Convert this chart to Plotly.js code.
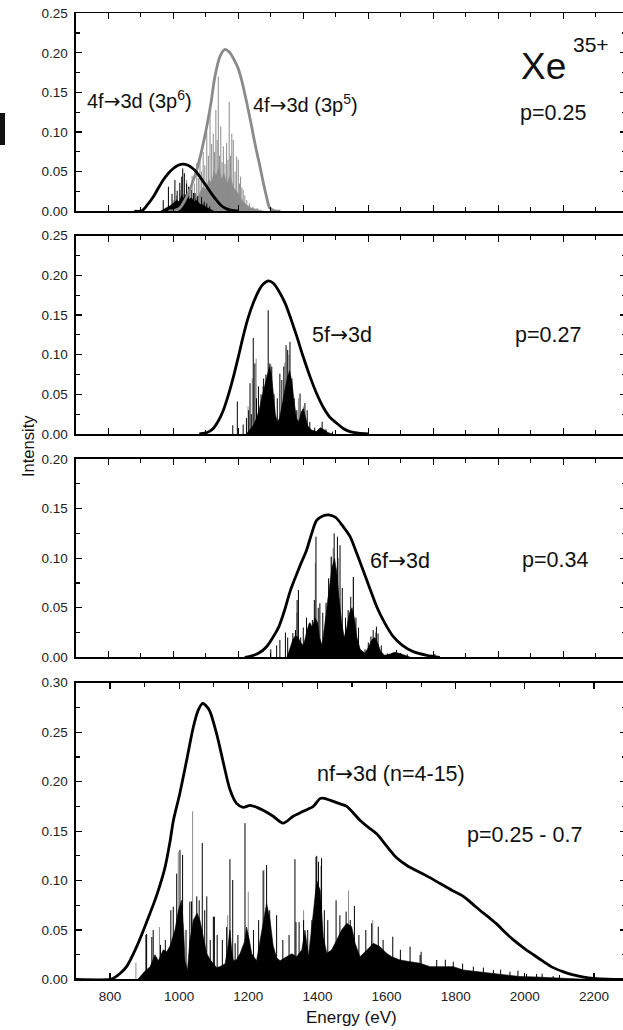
<!DOCTYPE html>
<html><head><meta charset="utf-8">
<script src="https://cdn.plot.ly/plotly-3.0.1.min.js"></script>
<style>html,body{margin:0;padding:0;overflow:hidden;background:#fff;width:623px;height:1030px}#chart{width:626px;height:1030px}</style>
</head><body><div id="chart"></div>
<script>
// ---------- Panel 1: 4f->3d (p=0.25) ----------
const p1Curve6E = [880, 903, 920, 938, 955, 970, 985, 1000, 1015, 1030, 1045, 1060, 1072, 1088, 1103, 1118, 1133, 1148, 1164, 1180, 1200];
const p1Curve6I = [0, 0.0005, 0.008, 0.018, 0.030, 0.040, 0.048, 0.054, 0.058, 0.0595, 0.058, 0.054, 0.049, 0.040, 0.031, 0.022, 0.014, 0.007, 0.003, 0.001, 0];
const p1Curve5E = [985, 1005, 1020, 1041, 1056, 1072, 1088, 1103, 1116, 1128, 1144, 1159, 1172, 1185, 1198, 1210, 1226, 1241, 1254, 1267, 1278, 1287, 1297, 1310, 1330];
const p1Curve5I = [0, 0.001, 0.004, 0.018, 0.033, 0.052, 0.078, 0.107, 0.137, 0.170, 0.196, 0.2045, 0.201, 0.193, 0.182, 0.166, 0.137, 0.107, 0.080, 0.056, 0.034, 0.018, 0.004, 0.001, 0];
const p1BlackStickE = [969, 985, 996, 1005, 1012, 1020, 1026, 1029, 1034, 1041, 1047, 1055, 1062, 1067, 1075, 1087, 1095, 1103, 1112];
const p1BlackStickI = [0.014, 0.031, 0.022, 0.0395, 0.026, 0.036, 0.0437, 0.054, 0.048, 0.035, 0.031, 0.027, 0.023, 0.023, 0.019, 0.018, 0.012, 0.010, 0.006];
const p1BlackMassE = [960, 975, 990, 1000, 1010, 1018, 1026, 1032, 1040, 1048, 1056, 1064, 1072, 1082, 1092, 1102, 1112, 1125];
const p1BlackMassI = [0, 0.003, 0.007, 0.010, 0.014, 0.012, 0.02, 0.016, 0.022, 0.015, 0.017, 0.012, 0.014, 0.009, 0.008, 0.005, 0.003, 0];
const p1GrayStickE = [1000, 1010, 1021, 1032, 1041, 1050, 1058, 1065, 1072, 1077, 1082, 1087, 1092, 1097, 1103, 1108, 1113, 1118, 1123, 1127, 1131, 1135, 1138.5, 1142, 1146, 1150, 1154, 1159, 1164, 1168, 1172, 1176, 1180, 1184.6, 1190, 1195, 1200, 1204, 1207, 1211, 1215, 1220, 1226, 1234, 1245, 1258];
const p1GrayStickI = [0.014, 0.02, 0.027, 0.022, 0.0395, 0.03, 0.045, 0.035, 0.0606, 0.042, 0.069, 0.05, 0.075, 0.058, 0.10, 0.07, 0.126, 0.085, 0.098, 0.075, 0.128, 0.09, 0.170, 0.07, 0.107, 0.062, 0.082, 0.06, 0.086, 0.065, 0.138, 0.07, 0.098, 0.09, 0.05, 0.069, 0.065, 0.035, 0.0437, 0.03, 0.027, 0.02, 0.014, 0.010, 0.006, 0.004];
const p1GrayMassE = [1040, 1055, 1068, 1080, 1090, 1100, 1110, 1118, 1125, 1132, 1140, 1148, 1156, 1165, 1175, 1185, 1195, 1205, 1215, 1225, 1240, 1260, 1280];
const p1GrayMassI = [0, 0.008, 0.015, 0.022, 0.03, 0.028, 0.04, 0.035, 0.05, 0.045, 0.055, 0.04, 0.048, 0.035, 0.045, 0.03, 0.025, 0.018, 0.012, 0.008, 0.004, 0.002, 0];

// ---------- Panel 2: 5f->3d (p=0.27) ----------
const p2CurveE = [1080, 1097, 1110, 1123, 1138, 1154, 1170, 1185, 1200, 1215, 1230, 1246, 1262, 1277, 1293, 1308, 1325, 1344, 1362, 1380, 1400, 1421, 1441, 1461, 1482, 1503, 1523, 1544, 1570, 1600];
const p2CurveI = [0, 0.001, 0.003, 0.007, 0.016, 0.030, 0.050, 0.072, 0.097, 0.123, 0.146, 0.165, 0.180, 0.189, 0.193, 0.190, 0.180, 0.165, 0.145, 0.123, 0.097, 0.072, 0.051, 0.034, 0.021, 0.0135, 0.007, 0.003, 0.001, 0];
const p2BlackStickE = [1183, 1197, 1215, 1225, 1232, 1236, 1240, 1246, 1251, 1256, 1262, 1270, 1278, 1285, 1292, 1297, 1303, 1310, 1320, 1328, 1334, 1340, 1347, 1352, 1359, 1365, 1372, 1380, 1390, 1397, 1405, 1412, 1420, 1435, 1458, 1470, 1490];
const p2BlackStickI = [0.011, 0.041, 0.012, 0.02, 0.03, 0.064, 0.025, 0.121, 0.089, 0.045, 0.06, 0.05, 0.07, 0.075, 0.156, 0.089, 0.085, 0.05, 0.045, 0.076, 0.068, 0.085, 0.112, 0.106, 0.116, 0.07, 0.045, 0.03, 0.051, 0.025, 0.039, 0.03, 0.015, 0.008, 0.0155, 0.006, 0.003];
const p2GrayStickE = [1230, 1243, 1255, 1275, 1300, 1343, 1356, 1385, 1400];
const p2GrayStickI = [0.035, 0.07, 0.095, 0.06, 0.088, 0.09, 0.1, 0.045, 0.035];
const p2MassE = [1225, 1238, 1248, 1256, 1264, 1272, 1280, 1288, 1296, 1302, 1308, 1314, 1320, 1327, 1334, 1342, 1350, 1358, 1365, 1372, 1379, 1386, 1394, 1400, 1407, 1414, 1425, 1440, 1452, 1462, 1475, 1490];
const p2MassI = [0, 0.006, 0.012, 0.02, 0.03, 0.045, 0.06, 0.072, 0.085, 0.075, 0.05, 0.025, 0.015, 0.02, 0.035, 0.055, 0.07, 0.08, 0.065, 0.04, 0.02, 0.015, 0.028, 0.032, 0.022, 0.01, 0.005, 0.003, 0.008, 0.006, 0.002, 0];

// ---------- Panel 3: 6f->3d (p=0.34) ----------
const p3CurveE = [1220, 1236, 1262, 1287, 1310, 1325, 1342, 1359, 1375, 1392, 1410, 1425, 1441, 1460, 1482, 1500, 1520, 1544, 1562, 1580, 1603, 1626, 1650, 1677, 1705, 1738, 1780, 1820];
const p3CurveI = [0, 0.001, 0.004, 0.0107, 0.022, 0.031, 0.047, 0.066, 0.080, 0.094, 0.108, 0.124, 0.138, 0.1425, 0.1435, 0.141, 0.133, 0.1217, 0.107, 0.0914, 0.071, 0.051, 0.035, 0.0208, 0.012, 0.0057, 0.002, 0];
const p3BlackStickE = [1300, 1318, 1328, 1345, 1352, 1368, 1376, 1381, 1385, 1392, 1400, 1410, 1418, 1428, 1434, 1439, 1446, 1451, 1460, 1470, 1478, 1486, 1495, 1500, 1505, 1513, 1520, 1530, 1538, 1546, 1554, 1562, 1570, 1590, 1600, 1608, 1615, 1625, 1630, 1640, 1660, 1687, 1700, 1720, 1805];
const p3BlackStickI = [0.008, 0.012, 0.0175, 0.025, 0.02, 0.0245, 0.0275, 0.0578, 0.0679, 0.02, 0.03, 0.04, 0.034, 0.0376, 0.0578, 0.1217, 0.05, 0.0545, 0.045, 0.055, 0.0797, 0.1015, 0.125, 0.09, 0.1217, 0.113, 0.07, 0.04, 0.0477, 0.061, 0.081, 0.04, 0.03, 0.008, 0.015, 0.021, 0.0275, 0.031, 0.024, 0.012, 0.004, 0.0074, 0.004, 0.003, 0.0033];
const p3GrayStickE = [1380, 1437, 1476, 1486, 1492, 1508, 1554, 1612, 1622];
const p3GrayStickI = [0.045, 0.095, 0.06, 0.1015, 0.11, 0.1, 0.081, 0.02, 0.025];
const p3MassE = [1350, 1360, 1368, 1376, 1384, 1392, 1400, 1405, 1412, 1420, 1428, 1436, 1444, 1450, 1458, 1465, 1472, 1480, 1488, 1496, 1503, 1510, 1518, 1526, 1534, 1542, 1550, 1557, 1565, 1575, 1590, 1600, 1610, 1620, 1628, 1638, 1650, 1665, 1680, 1695, 1710, 1730];
const p3MassI = [0, 0.01, 0.018, 0.022, 0.02, 0.015, 0.012, 0.018, 0.028, 0.035, 0.03, 0.04, 0.035, 0.02, 0.012, 0.03, 0.05, 0.07, 0.09, 0.1, 0.085, 0.06, 0.035, 0.02, 0.03, 0.045, 0.05, 0.04, 0.02, 0.008, 0.004, 0.01, 0.017, 0.02, 0.015, 0.006, 0.002, 0.003, 0.005, 0.004, 0.002, 0];

// ---------- Panel 4: nf->3d (n=4-15), p=0.25-0.7 ----------
const p4CurveE = [700, 800, 810, 829, 848, 877, 906, 935, 959, 974, 983, 1002, 1022, 1041, 1055, 1068, 1080, 1089, 1108, 1128, 1147, 1166, 1185, 1205, 1225, 1243, 1272, 1301, 1330, 1359, 1388, 1408, 1420, 1446, 1470, 1485, 1523, 1550, 1572, 1600, 1629, 1660, 1687, 1720, 1755, 1790, 1822, 1850, 1870, 1895, 1919, 1945, 1967, 2000, 2025, 2050, 2082, 2110, 2140, 2170, 2198, 2240, 2300];
const p4CurveI = [0, 0, 0.0012, 0.006, 0.013, 0.033, 0.058, 0.085, 0.113, 0.140, 0.160, 0.188, 0.222, 0.255, 0.272, 0.279, 0.276, 0.271, 0.249, 0.219, 0.192, 0.178, 0.174, 0.176, 0.174, 0.171, 0.165, 0.158, 0.165, 0.170, 0.175, 0.183, 0.183, 0.180, 0.177, 0.175, 0.161, 0.153, 0.147, 0.135, 0.123, 0.115, 0.110, 0.104, 0.097, 0.090, 0.084, 0.076, 0.070, 0.063, 0.056, 0.047, 0.040, 0.031, 0.025, 0.019, 0.012, 0.008, 0.0046, 0.0025, 0.0012, 0.0003, 0];
const p4BlackStickE = [904, 906, 921, 925, 976, 983, 993, 1002.5, 1010, 1031, 1036, 1051, 1058, 1067, 1074, 1080, 1099, 1102, 1137.5, 1147, 1155, 1162, 1190.5, 1243, 1253, 1282, 1335, 1338, 1347, 1384, 1396, 1398, 1403, 1412, 1454, 1483, 1507, 1557, 1576, 1618, 1668, 1697, 1745, 1793, 1851, 1909, 1957, 2005, 2034, 2082,
  946, 960, 1020, 1090, 1110, 1125, 1170, 1215, 1230, 1262, 1300, 1318, 1360, 1372, 1420, 1430, 1465, 1495, 1520, 1540, 1590, 1640, 1700, 1770, 1820, 1880, 1930, 1980, 2050];
const p4BlackStickI = [0.045, 0.046, 0.043, 0.050, 0.070, 0.0736, 0.107, 0.131, 0.126, 0.0787, 0.079, 0.084, 0.080, 0.138, 0.070, 0.084, 0.0635, 0.0635, 0.053, 0.1216, 0.1006, 0.0366, 0.158, 0.11, 0.1158, 0.065, 0.1216, 0.058, 0.058, 0.06, 0.124, 0.125, 0.119, 0.1226, 0.080, 0.0686, 0.0743, 0.0568, 0.0534, 0.0433, 0.0332, 0.0248, 0.0197, 0.018, 0.013, 0.0096, 0.0079, 0.0056, 0.0056, 0.0035,
  0.035, 0.04, 0.05, 0.04, 0.045, 0.04, 0.045, 0.05, 0.06, 0.07, 0.04, 0.045, 0.06, 0.05, 0.07, 0.06, 0.065, 0.06, 0.045, 0.05, 0.04, 0.03, 0.028, 0.02, 0.016, 0.012, 0.01, 0.009, 0.006];
const p4GrayStickE = [875, 943, 997.6, 1039, 1140.5, 1200, 1245.5, 1360, 1410, 1490, 1560];
const p4GrayStickI = [0.017, 0.053, 0.129, 0.170, 0.065, 0.0888, 0.1108, 0.07, 0.115, 0.09, 0.06];
const p4MassE = [880, 887, 900, 916, 930, 940, 954, 964, 974, 988, 998, 1007, 1013, 1017, 1024, 1031, 1041, 1052, 1060, 1070, 1080, 1090, 1099, 1108, 1118, 1133, 1140, 1147, 1152, 1157, 1166, 1176, 1190, 1195, 1203, 1210, 1224, 1234, 1243, 1253, 1263, 1272, 1282, 1292, 1311, 1326, 1340, 1355, 1364, 1374, 1388, 1398, 1408, 1417, 1427, 1441, 1456, 1470, 1485, 1499, 1509, 1523, 1543, 1562, 1581, 1600, 1615, 1639, 1668, 1697, 1726, 1755, 1793, 1822, 1861, 1909, 1948, 1986, 2034, 2082, 2130, 2190];
const p4MassI = [0, 0.003, 0.008, 0.0128, 0.025, 0.019, 0.030, 0.028, 0.034, 0.050, 0.070, 0.080, 0.05, 0.019, 0.009, 0.039, 0.060, 0.067, 0.060, 0.043, 0.026, 0.02, 0.016, 0.012, 0.013, 0.016, 0.03, 0.050, 0.03, 0.019, 0.02, 0.026, 0.039, 0.053, 0.04, 0.026, 0.019, 0.039, 0.060, 0.077, 0.060, 0.034, 0.022, 0.019, 0.023, 0.026, 0.023, 0.030, 0.050, 0.023, 0.067, 0.100, 0.09, 0.0433, 0.0265, 0.0298, 0.040, 0.050, 0.0568, 0.0534, 0.0366, 0.023, 0.0298, 0.0366, 0.0332, 0.0265, 0.023, 0.0197, 0.018, 0.0164, 0.013, 0.013, 0.013, 0.0096, 0.0079, 0.0063, 0.0046, 0.003, 0.0025, 0.0015, 0.001, 0];

// ---------- Axis tick settings ----------
const yTickFormat = '.2f';
const FONT = 'Liberation Sans, Arial, Helvetica, sans-serif';
const BLACK = '#000000';
const GRAY = '#8c8c8c';
const ARROW = '<span style="font-family:DejaVu Sans">\u2192</span>';

function sticks(E, I, xa, ya, color) {
  const x = [], y = [];
  E.forEach((e, i) => { x.push(e, e, null); y.push(0, I[i], null); });
  return {type: 'scatter', mode: 'lines', x, y, xaxis: xa, yaxis: ya,
    line: {color, width: 1}, hoverinfo: 'skip', connectgaps: false};
}
function mass(E, I, xa, ya, color) {
  return {type: 'scatter', mode: 'lines', x: E, y: I, xaxis: xa, yaxis: ya,
    fill: 'tozeroy', fillcolor: color, line: {color, width: 0.6}, hoverinfo: 'skip'};
}
function curve(E, I, xa, ya, color) {
  return {type: 'scatter', mode: 'lines', x: E, y: I, xaxis: xa, yaxis: ya,
    line: {color, width: 2.8, shape: 'spline', smoothing: 0.8}, hoverinfo: 'skip'};
}

const traces = [
  mass(p1GrayMassE, p1GrayMassI, 'x', 'y', GRAY),
  sticks(p1GrayStickE, p1GrayStickI, 'x', 'y', GRAY),
  mass(p1BlackMassE, p1BlackMassI, 'x', 'y', BLACK),
  sticks(p1BlackStickE, p1BlackStickI, 'x', 'y', BLACK),
  curve(p1Curve5E, p1Curve5I, 'x', 'y', '#8a8a8a'),
  curve(p1Curve6E, p1Curve6I, 'x', 'y', BLACK),

  sticks(p2GrayStickE, p2GrayStickI, 'x2', 'y2', GRAY),
  mass(p2MassE, p2MassI, 'x2', 'y2', BLACK),
  sticks(p2BlackStickE, p2BlackStickI, 'x2', 'y2', BLACK),
  curve(p2CurveE, p2CurveI, 'x2', 'y2', BLACK),

  sticks(p3GrayStickE, p3GrayStickI, 'x3', 'y3', GRAY),
  mass(p3MassE, p3MassI, 'x3', 'y3', BLACK),
  sticks(p3BlackStickE, p3BlackStickI, 'x3', 'y3', BLACK),
  curve(p3CurveE, p3CurveI, 'x3', 'y3', BLACK),

  sticks(p4GrayStickE, p4GrayStickI, 'x4', 'y4', GRAY),
  mass(p4MassE, p4MassI, 'x4', 'y4', BLACK),
  sticks(p4BlackStickE, p4BlackStickI, 'x4', 'y4', BLACK),
  curve(p4CurveE, p4CurveI, 'x4', 'y4', BLACK)
];

function xAxis(anchor, range, labels) {
  return {anchor, domain: [0, 1], range, showline: true, linecolor: BLACK, linewidth: 1.6,
    mirror: 'ticks', ticks: 'inside', ticklen: 6, tickwidth: 1.2, tickcolor: BLACK,
    dtick: 200, tick0: 0, showgrid: false, zeroline: false, showticklabels: labels,
    minor: {ticks: 'inside', ticklen: 4, tickwidth: 1.2, tickcolor: BLACK, dtick: 100, showgrid: false},
    tickfont: {family: FONT, size: 13.5, color: '#222'}, ticklabelstandoff: 4};
}
function yAxis(anchor, domain, range) {
  return {anchor, domain, range, showline: true, linecolor: BLACK, linewidth: 1.6,
    mirror: 'ticks', ticks: 'inside', ticklen: 6, tickwidth: 1.2, tickcolor: BLACK,
    dtick: 0.05, tick0: 0, tickformat: yTickFormat, showgrid: false, zeroline: false,
    minor: {ticks: 'inside', ticklen: 4, tickwidth: 1.2, tickcolor: BLACK, dtick: 0.025, showgrid: false},
    tickfont: {family: FONT, size: 13.5, color: '#222'}, ticklabelstandoff: 4};
}

const ann = (text, x, y, size, extra) => Object.assign({text, x, y, xref: 'paper', yref: 'paper',
  showarrow: false, xanchor: 'left', yanchor: 'middle', font: {family: FONT, size, color: '#111'}}, extra || {});

const layout = {
  width: 626, height: 1030,
  margin: {l: 76, r: 0, t: 0, b: 0},
  paper_bgcolor: '#fff', plot_bgcolor: '#fff', showlegend: false,
  xaxis: xAxis('y', [700.6, 2393], false),
  xaxis2: xAxis('y2', [700.6, 2393], false),
  xaxis3: xAxis('y3', [700.6, 2393], false),
  xaxis4: xAxis('y4', [701.7, 2292.6], true),
  yaxis: yAxis('x', [0.7949, 0.98709], [0, 0.25]),
  yaxis2: yAxis('x2', [0.57864, 0.77117], [0, 0.25]),
  yaxis3: yAxis('x3', [0.36184, 0.55437], [0, 0.2]),
  yaxis4: yAxis('x4', [0.04903, 0.33718], [0, 0.3]),
  annotations: [
    ann('4f' + ARROW + '3d (3p<sup>6</sup>)', 0.0164, 0.9029, 20),
    ann('4f' + ARROW + '3d (3p<sup>5</sup>)', 0.318, 0.899, 20),
    ann('Xe', 0.8055, 0.9352, 37),
    ann('35+', 0.9, 0.9568, 21),
    ann('p=0.25', 0.8036, 0.8903, 21.5),
    ann('5f' + ARROW + '3d', 0.4255, 0.6748, 21.5),
    ann('p=0.27', 0.7945, 0.6748, 21.5),
    ann('6f' + ARROW + '3d', 0.5309, 0.4563, 21.5),
    ann('p=0.34', 0.8073, 0.4563, 21.5),
    ann('nf' + ARROW + '3d (n=4-15)', 0.4345, 0.2495, 21.5),
    ann('p=0.25 - 0.7', 0.7073, 0.1893, 21.5),
    ann('Intensity', -0.0873, 0.567, 16.5, {xanchor: 'center', textangle: -90}),
    ann('Energy (eV)', 0.5009, 0.0126, 17, {xanchor: 'center'})
  ],
  shapes: [
    {type: 'rect', xref: 'paper', yref: 'paper', x0: -0.1382, x1: -0.1291, y0: 0.8592, y1: 0.8903,
     fillcolor: '#111', line: {width: 0}}
  ]
};

Plotly.newPlot('chart', traces, layout, {staticPlot: true, displayModeBar: false});
</script></body></html>
